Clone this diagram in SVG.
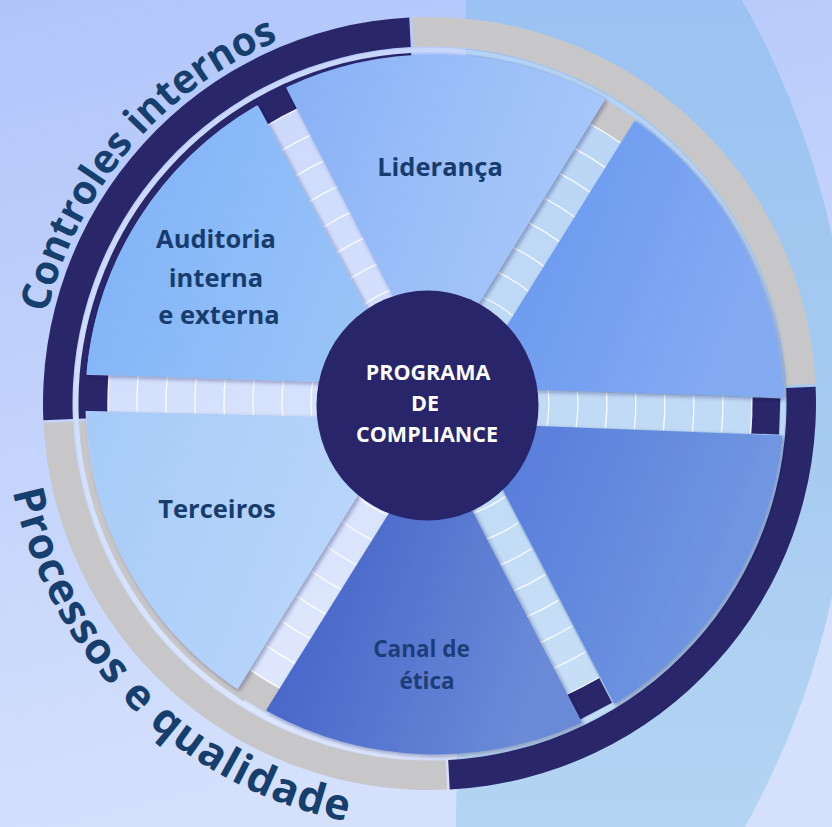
<svg xmlns="http://www.w3.org/2000/svg" width="832" height="827" viewBox="0 0 832 827">
<defs>
<style>
.lbl{font-family:"Open Sans","Liberation Sans",sans-serif;font-weight:700;font-size:25.5px;fill:#173c6d;text-anchor:middle}
.ctr{font-family:"Open Sans","Liberation Sans",sans-serif;font-weight:700;font-size:21.5px;fill:#ffffff;text-anchor:middle}
.arc{font-family:"Open Sans","Liberation Sans",sans-serif;font-weight:700;fill:#173f6e}
.tick{fill:none;stroke:#ffffff;stroke-width:1.3;stroke-opacity:0.9}
.spk{fill:#ffffff;fill-opacity:0.3}
.wedge{stroke-width:3;stroke-linejoin:round;filter:url(#sh)}
.dark{fill:#29266a}
.gray{fill:#c7c7c9}
</style>
<linearGradient id="bg" x1="0" y1="0" x2="0.25" y2="1">
<stop offset="0" stop-color="#b1c5fb"/><stop offset="1" stop-color="#d5e1fc"/>
</linearGradient>
<linearGradient id="band" x1="0" y1="0" x2="0" y2="1">
<stop offset="0" stop-color="#9bc2f2"/><stop offset="0.5" stop-color="#a6cbf1"/><stop offset="1" stop-color="#b4d4f3"/>
</linearGradient>
<linearGradient id="gAud" x1="0" y1="0" x2="1" y2="0.35">
<stop offset="0" stop-color="#7cb0f6"/><stop offset="0.5" stop-color="#8bbaf8"/><stop offset="1" stop-color="#98c3f8"/>
</linearGradient>
<linearGradient id="gLid" x1="0" y1="0" x2="1" y2="0.35">
<stop offset="0" stop-color="#88b0f6"/><stop offset="0.45" stop-color="#98bcf8"/><stop offset="1" stop-color="#a8c8fa"/>
</linearGradient>
<linearGradient id="gTR" x1="0" y1="0" x2="1" y2="0.35">
<stop offset="0" stop-color="#6a96ef"/><stop offset="0.5" stop-color="#739ff1"/><stop offset="1" stop-color="#84aaf2"/>
</linearGradient>
<linearGradient id="gBR" x1="0" y1="0" x2="1" y2="0.35">
<stop offset="0" stop-color="#5479da"/><stop offset="0.5" stop-color="#6389de"/><stop offset="1" stop-color="#7399e2"/>
</linearGradient>
<linearGradient id="gCan" x1="0" y1="0" x2="1" y2="0.35">
<stop offset="0" stop-color="#3f5cc4"/><stop offset="0.5" stop-color="#5372ce"/><stop offset="1" stop-color="#6a8ad8"/>
</linearGradient>
<linearGradient id="gTer" x1="0" y1="0" x2="1" y2="0.35">
<stop offset="0" stop-color="#a6cbf8"/><stop offset="0.5" stop-color="#b0d1f9"/><stop offset="1" stop-color="#bcd6fb"/>
</linearGradient>
<filter id="sh" x="-10%" y="-10%" width="125%" height="125%">
<feDropShadow dx="2" dy="2" stdDeviation="2" flood-color="#1c1a55" flood-opacity="0.38"/>
</filter>
<path id="ticks" class="tick" d="M321.5,-18 A322,322 0 0 1 321.5,18 M292.45,-18 A293,293 0 0 1 292.45,18 M263.39,-18 A264,264 0 0 1 263.39,18 M234.31,-18 A235,235 0 0 1 234.31,18 M205.21,-18 A206,206 0 0 1 205.21,18 M176.08,-18 A177,177 0 0 1 176.08,18 M146.9,-18 A148,148 0 0 1 146.9,18 M117.63,-18 A119,119 0 0 1 117.63,18"/>
<g id="spokeDark"><rect class="spk" x="0" y="-18" width="322" height="36"/><rect class="dark" x="322" y="-18" width="28" height="36"/><use href="#ticks"/></g>
<g id="spokeGray"><rect class="spk" x="0" y="-18" width="322" height="36"/><rect class="gray" x="322" y="-18" width="28" height="36"/><use href="#ticks"/></g>
<path id="arcTop" d="M42.47,335.26 A393,393 0 0 1 361.26,16.47" fill="none"/>
<path id="arcBottom" d="M9.97,477.47 A426,426 0 0 0 392.37,827.88" fill="none"/>
</defs>

<g id="background">
<rect width="832" height="827" fill="url(#bg)"/>
<path d="M466,0 L742,0 A846,846 0 0 1 745,827 L456,827 Z" fill="url(#band)"/>
</g>

<g id="outer-ring">
<path class="gray" d="M411.97,17.4 A386.5,386.5 0 0 1 815.5,383.95 L786.04,385.44 A357,357 0 0 0 413.31,46.87 Z"/>
<path class="dark" d="M815.63,386.64 A386.5,386.5 0 0 1 449.73,789.47 L448.19,760.01 A357,357 0 0 0 786.16,387.93 Z"/>
<path class="gray" d="M447.03,789.6 A386.5,386.5 0 0 1 43.5,423.05 L72.96,421.56 A357,357 0 0 0 445.69,760.13 Z"/>
<path class="dark" d="M43.37,420.36 A386.5,386.5 0 0 1 409.27,17.53 L410.81,46.99 A357,357 0 0 0 72.84,419.07 Z"/>
<circle cx="429.5" cy="403.5" r="353.5" fill="none" stroke="#ffffff" stroke-opacity="0.25" stroke-width="4.5"/>
<path d="M82.33,418.66 A347.5,347.5 0 0 1 411.31,56.48" fill="none" stroke="#29266a" stroke-width="7"/>
<path d="M245.36,698.18 A347.5,347.5 0 0 1 82.44,421.08" fill="none" stroke="#c7c7c9" stroke-width="7"/>
</g>

<g id="connectors">
<use href="#spokeDark" transform="translate(434.9 400.3) rotate(-118.2)"/>
<use href="#spokeGray" transform="translate(436 406.7) rotate(-58.2)"/>
<use href="#spokeDark" transform="translate(429.9 404.2) rotate(2)"/>
<use href="#spokeDark" transform="translate(434.8 400.5) rotate(62.56)"/>
<use href="#spokeGray" transform="translate(434.8 405.9) rotate(121.74)"/>
<use href="#spokeDark" transform="translate(430 401.9) rotate(181.5)"/>
</g>

<g id="wedge-auditoria">
<path class="wedge" fill="url(#gAud)" stroke="url(#gAud)" d="M405,383 L88,373 A343,343 0 0 1 257,107 Z"/>
<text class="lbl" x="216" y="248">Auditoria</text>
<text class="lbl" x="216" y="287">interna</text>
<text class="lbl" x="219" y="324">e externa</text>
</g>
<g id="wedge-lideranca">
<path class="wedge" fill="url(#gLid)" stroke="url(#gLid)" d="M434,373 L288,88 A347,347 0 0 1 603,100 Z"/>
<text class="lbl" x="440" y="176">Liderança</text>
</g>
<g id="wedge-top-right">
<path class="wedge" fill="url(#gTR)" stroke="url(#gTR)" d="M471,386 L635,123 A350,350 0 0 1 782,396 Z"/>
</g>
<g id="wedge-bottom-right">
<path class="wedge" fill="url(#gBR)" stroke="url(#gBR)" d="M471,425 L781,437 A352,352 0 0 1 615,702 Z"/>
</g>
<g id="wedge-canal">
<path class="wedge" fill="url(#gCan)" stroke="url(#gCan)" d="M435,442 L580,722 A350,350 0 0 1 268,710 Z"/>
<text class="lbl" x="421.5" y="657" style="font-size:22.5px;fill:#1c3d78">Canal de</text>
<text class="lbl" x="427" y="689" style="font-size:22.5px;fill:#1c3d78">ética</text>
</g>
<g id="wedge-terceiros">
<path class="wedge" fill="url(#gTer)" stroke="url(#gTer)" d="M403,420 L237,687 A343,343 0 0 1 88,413 Z"/>
<text class="lbl" x="217" y="518">Terceiros</text>
</g>

<g id="center">
<ellipse cx="427.5" cy="405.5" rx="111" ry="115" fill="#28256a"/>
<text class="ctr" x="428" y="380">PROGRAMA</text>
<text class="ctr" x="425" y="411">DE</text>
<text class="ctr" x="427" y="442">COMPLIANCE</text>
</g>

<g id="arc-labels">
<text class="arc" style="font-size:40px"><textPath href="#arcTop" startOffset="22.6" textLength="371" lengthAdjust="spacing">Controles internos</textPath></text>
<text class="arc" style="font-size:43px"><textPath href="#arcBottom" startOffset="14.1" textLength="497" lengthAdjust="spacing">Processos e qualidade</textPath></text>
</g>
</svg>
